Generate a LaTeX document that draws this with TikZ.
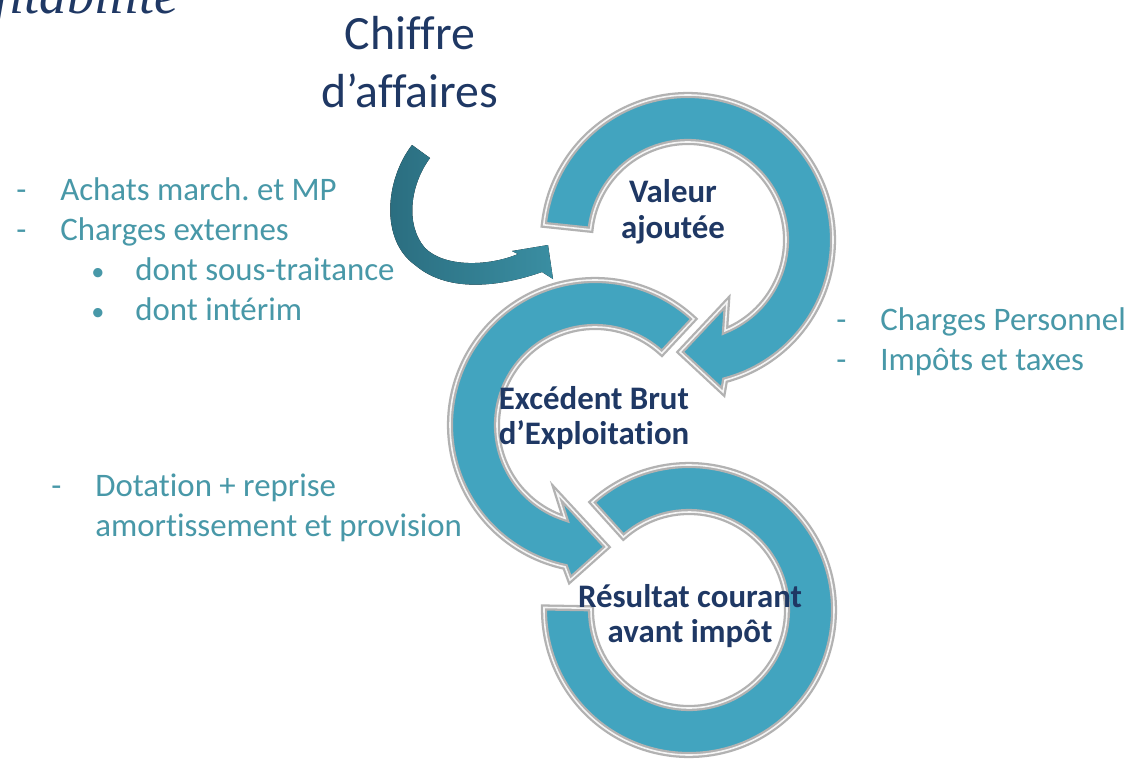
\documentclass[tikz,border=0pt]{standalone}
\usepackage{fontspec}
\setmainfont{Carlito}[Ligatures=NoCommon]
\newfontfamily\titrefont{Liberation Serif}
\frenchspacing

\definecolor{bleunuit}{RGB}{31,56,100}
\definecolor{sarcelle}{RGB}{72,152,168}
\definecolor{anneau}{RGB}{66,164,191}
\definecolor{flecheA}{RGB}{42,108,126}
\definecolor{flecheB}{RGB}{58,142,162}

\tikzset{
    anneau/.style={fill=anneau, draw=gray!60, line width=1.3pt, double=white!92!gray, double distance=0.9pt, line join=miter},
    etape/.style={font=\fontsize{18.7}{20.4}\selectfont\bfseries, text=bleunuit, align=center, inner sep=0pt},
    poste/.style={font=\fontsize{18.7}{22.7}\selectfont, text=sarcelle, anchor=base west, inner sep=0pt},
}
\newcommand{\tiret}{\llap{\makebox[25pt][l]{-}}}
\newcommand{\puce}{\llap{\makebox[25pt][l]{\scalebox{0.8}{\textbullet}}}}

\begin{document}
\begin{tikzpicture}[x=0.02cm, y=-0.02cm]
    \path[fill=white, use as bounding box] (0,0) rectangle (1130,758);
    % titre coupe en haut a gauche
    \begin{scope}
        \clip (0,0) rectangle (1130,758);
        \node[anchor=base west, inner sep=0pt, text=bleunuit, font=\titrefont\itshape\fontsize{31}{34}\selectfont] (titre) at (-6,13) {fitabilité};
    \end{scope}
    % fleche du chiffre d'affaires
    \fill[left color=flecheA, right color=flecheB] (412,145) .. controls (385,180) and (380,240) .. (415,265)
        .. controls (450,295) and (505,285) .. (542,272) -- (553,279) -- (548,245) -- (512,251) -- (518,254)
        .. controls (490,266) and (445,268) .. (425,248) .. controls (405,225) and (410,185) .. (430,158) -- cycle;
    % anneau 3 : resultat courant
    \begin{scope}[shift={(689,610)}]
        \path[anneau] (-132:145) arc[start angle=-132, end angle=181, radius=145]
            -- (181:98) arc[start angle=181, end angle=-132, radius=98] -- cycle;
    \end{scope}
    % anneau 2 : excedent brut
    \begin{scope}[shift={(595,425)}]
        \path[anneau] (-47:145) arc[start angle=-47, end angle=-258.1, radius=145]
            -- (-25,155) -- (12,122) -- (-38,68)
            -- (-252.2:98) arc[start angle=-252.2, end angle=-47, radius=98] -- cycle;
    \end{scope}
    % anneau 1 : valeur ajoutee
    \begin{scope}[shift={(688,240)}]
        \path[anneau] (186:145) arc[start angle=186, end angle=435.2, radius=145]
            -- (35,152) -- (-8,112) -- (39,62)
            -- (427.8:98) arc[start angle=427.8, end angle=186, radius=98] -- cycle;
    \end{scope}
    % textes des etapes
    \node[text=bleunuit, align=center, inner sep=0pt, font=\fontsize{27.2}{32.9}\selectfont] (ca) at (410,62) {Chiffre\\d’affaires};
    \node[etape] (va) at (673,212) {Valeur\\ajoutée};
    \node[etape] (ebe) at (594,418) {Excédent Brut\\d’Exploitation};
    \node[etape] (rcai) at (690,616) {Résultat courant\\avant impôt};
    % charges deduites
    \node[poste] (achats) at (60,200) {\tiret Achats march. et MP};
    \node[poste] (externes) at (60,240) {\tiret Charges externes};
    \node[poste] (soustrait) at (135,280) {\puce dont sous-traitance};
    \node[poste] (interim) at (135,320) {\puce dont intérim};
    \node[poste] (personnel) at (880,330) {\tiret Charges Personnel};
    \node[poste] (impots) at (880,370) {\tiret Impôts et taxes};
    \node[poste] (dotation) at (95,496) {\tiret Dotation + reprise};
    \node[poste] (amort) at (95,536) {amortissement et provision};
\end{tikzpicture}
\end{document}
